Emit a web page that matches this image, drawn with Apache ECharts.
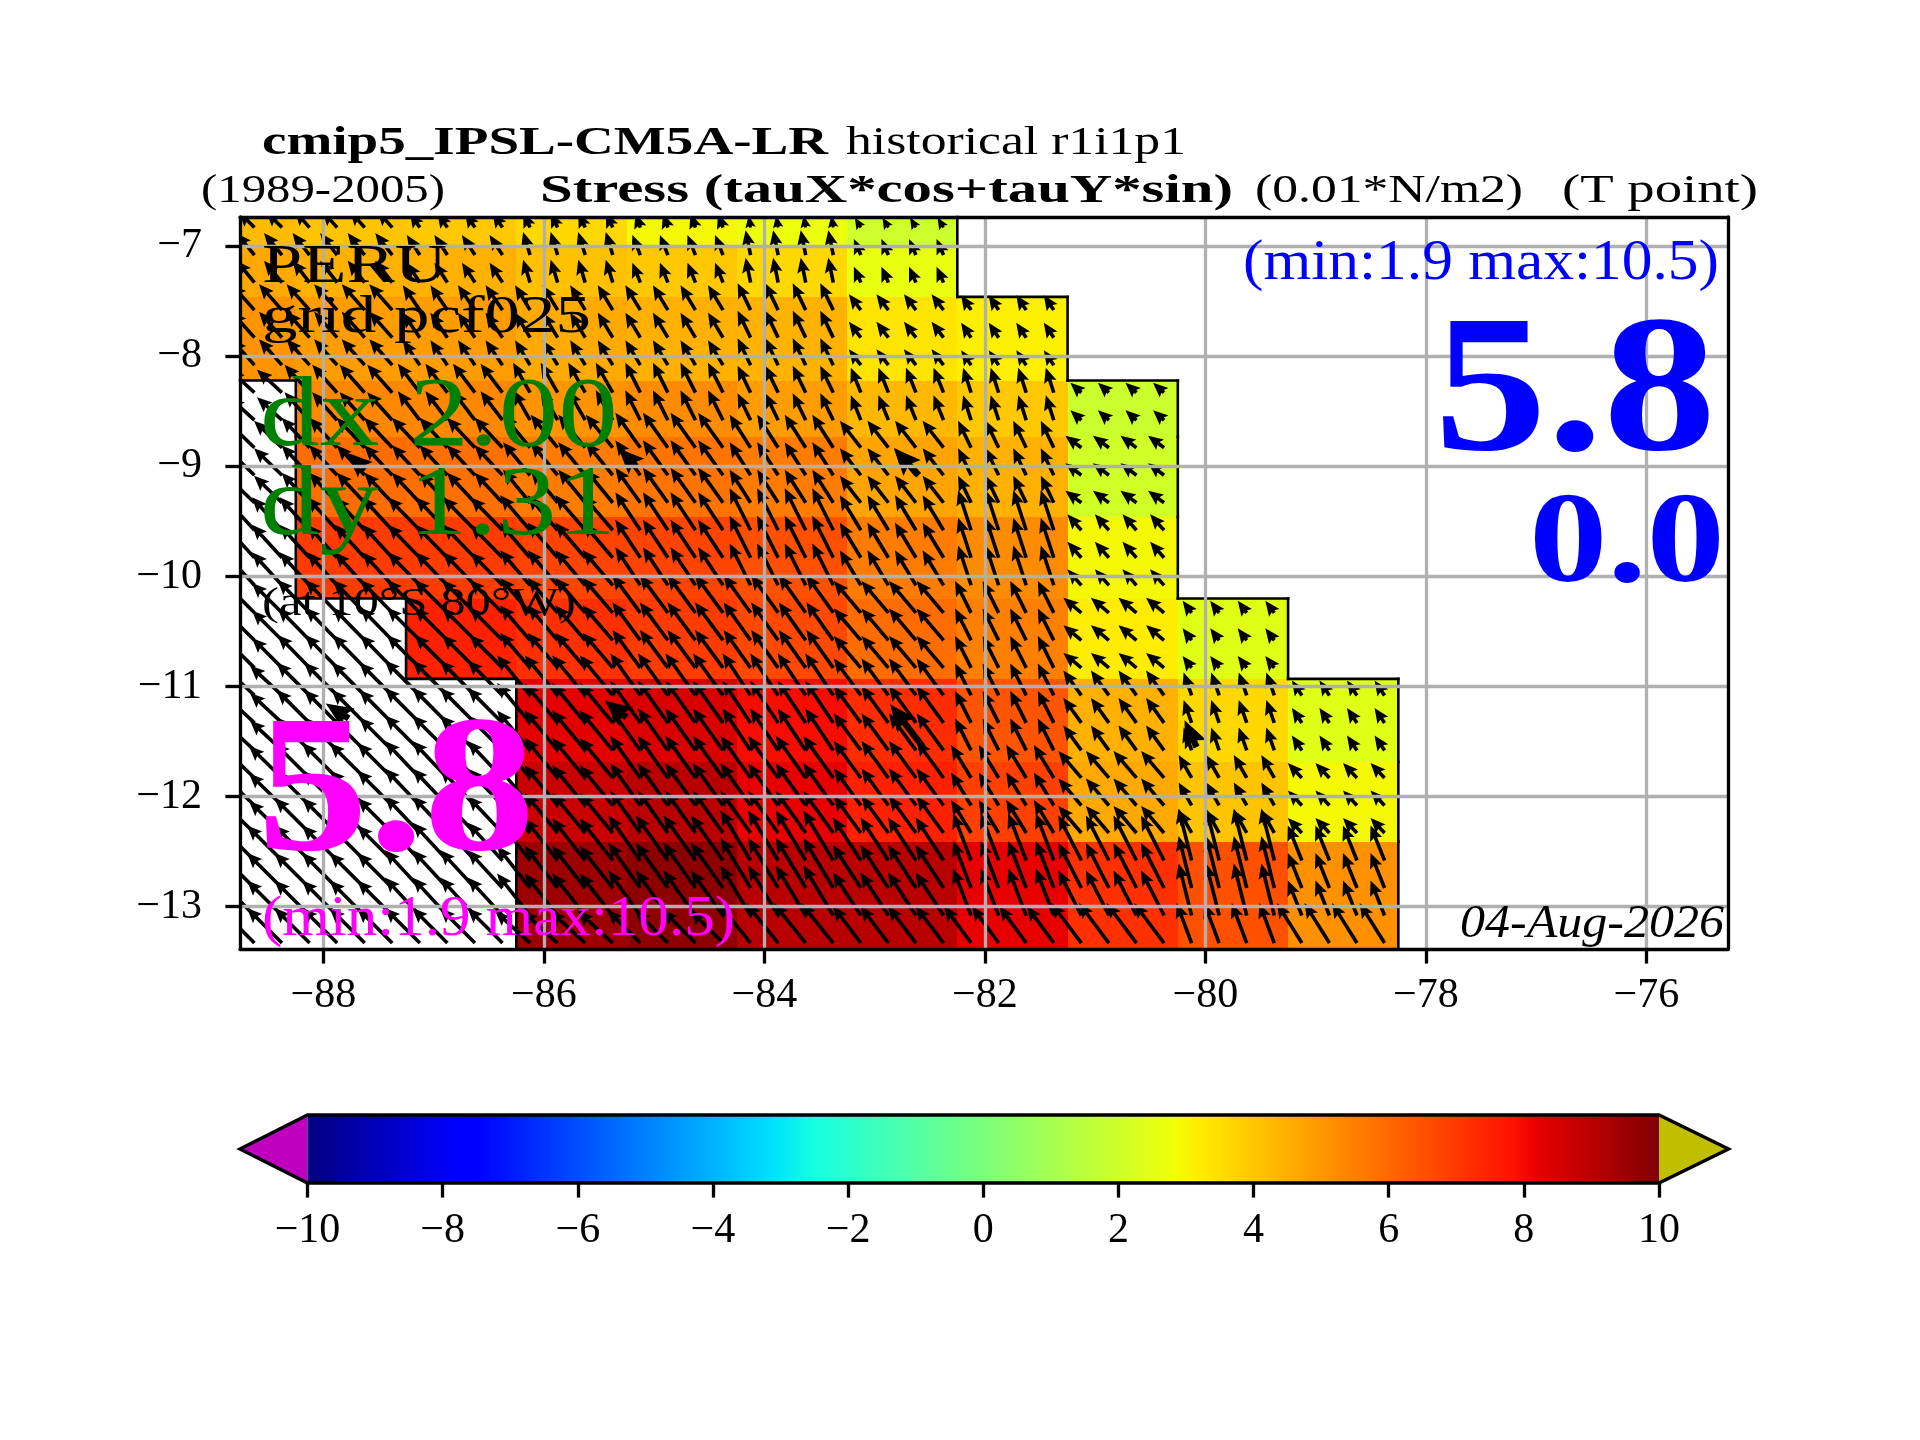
<!DOCTYPE html>
<html><head><meta charset="utf-8">
<style>html,body{margin:0;padding:0;background:#fff}#c{width:1920px;height:1440px}</style>
<script src="https://cdn.jsdelivr.net/npm/echarts@6/dist/echarts.min.js"></script>
</head><body><div id="c"></div>
<script>
// ---- data ----
const lonTicks = [-88,-86,-84,-82,-80,-78,-76];
const latTicks = [-7,-8,-9,-10,-11,-12,-13];
const barTicks = [-10,-8,-6,-4,-2,0,2,4,6,8,10];
const colLon = [-88.756,-88.25,-87.25,-86.25,-85.25,-84.25,-83.25,-82.25,-81.25,-80.25,-79.25,-78.25];
const rowLat = [-6.734,-7.006,-7.46,-8.22,-8.73,-9.46,-10.2,-10.93,-11.685,-12.41,-13.384];
const N = null;
const stress = [
 [4.24,4.05,3.96,3.63,2.93,2.74,1.96,N,N,N,N],
 [4.64,4.47,4.47,4.13,3.96,3.63,2.64,N,N,N,N],
 [5.07,4.90,4.90,4.60,4.47,4.40,3.37,3.12,N,N,N],
 [N,5.32,5.32,5.07,5.23,4.90,4.30,3.96,1.90,N,N],
 [N,5.91,5.83,5.57,5.74,5.57,4.73,4.47,2.06,N,N],
 [N,6.93,6.93,6.76,6.76,6.50,5.57,5.23,2.93,N,N],
 [N,N,7.52,7.18,6.93,6.67,5.91,5.49,3.20,2.44,N],
 [N,N,N,8.25,8.45,7.95,7.27,6.42,4.47,3.63,2.44],
 [N,N,N,8.74,9.00,8.20,7.52,6.84,4.64,4.05,2.93],
 [N,N,N,9.50,9.78,9.03,9.03,8.20,7.18,6.50,5.15]
];
const quiverLon = [-88.625,-88.375,-88.125,-87.875,-87.625,-87.375,-87.125,-86.875,-86.625,-86.375,-86.125,-85.875,-85.625,-85.375,-85.125,-84.875,-84.625,-84.375,-84.125,-83.875,-83.625,-83.375,-83.125,-82.875,-82.625,-82.375,-82.125,-81.875,-81.625,-81.375,-81.125,-80.875,-80.625,-80.375,-80.125,-79.875,-79.625,-79.375,-79.125,-78.875,-78.625,-78.375];
const quiverLat = [-6.83,-7.08,-7.33,-7.58,-7.83,-8.08,-8.33,-8.58,-8.83,-9.08,-9.33,-9.58,-9.83,-10.08,-10.33,-10.58,-10.83,-11.08,-11.33,-11.58,-11.83,-12.08,-12.33,-12.58,-12.83,-13.08,-13.33];
const quiverRow = [0,1,1,2,2,2,3,3,4,4,4,5,5,5,6,6,6,7,7,7,8,8,8,9,9,9,10];
const tauX = [
 [-1.6,-1.5,-1.0,-0.7,-0.5,-0.2,-0.6,N,N,N,N],
 [-1.8,-1.7,-1.3,-0.7,-0.8,-0.5,-0.7,N,N,N,N],
 [-2.3,-2.3,-1.7,-1.5,-1.5,-1.3,-1.2,-1.0,N,N,N],
 [-2.5,-2.5,-2.2,-1.7,-1.5,-1.3,-1.0,-0.8,-1.1,N,N],
 [-2.8,-2.8,-2.8,-2.7,-2.5,-2.1,-2.1,-1.3,-1.6,N,N],
 [-3.0,-3.0,-3.2,-3.0,-2.5,-2.1,-2.1,-1.3,-1.4,N,N],
 [-3.0,-3.2,-3.3,-3.0,-2.8,-2.7,-2.7,-1.6,-1.8,-0.9,N],
 [-3.2,-3.3,-3.5,-3.3,-3.0,-2.8,-2.7,-1.6,-1.8,-0.8,-1.0],
 [-3.3,-3.5,-3.5,-3.3,-3.0,-3.0,-2.7,-2.0,-2.3,-1.3,-1.4],
 [-3.5,-3.5,-3.5,-3.3,-3.2,-3.0,-2.8,-1.8,-2.3,-1.3,-1.4],
 [-3.5,-3.5,-3.5,-3.5,-3.3,-3.2,-2.8,-2.7,-3.0,-1.5,-2.5]
];
const tauY = [
 [1.6,1.7,1.5,1.5,1.4,1.2,1.0,N,N,N,N],
 [2.2,2.2,2.0,2.3,2.0,2.5,1.6,N,N,N,N],
 [2.6,2.6,2.5,2.5,2.5,2.7,1.6,1.5,N,N,N],
 [2.3,2.8,2.9,3.0,3.0,2.7,2.5,2.5,1.0,N,N],
 [2.7,3.0,3.0,3.3,3.5,3.3,2.7,2.7,1.2,N,N],
 [3.3,3.3,3.3,3.5,3.8,4.2,3.5,4.0,1.6,N,N],
 [3.0,3.3,3.3,3.5,3.8,3.8,3.2,3.2,1.5,1.2,N],
 [3.0,3.3,3.5,4.0,4.2,4.2,3.7,3.2,2.5,2.3,1.5],
 [3.2,3.5,3.7,4.0,4.2,4.2,3.7,3.3,2.7,2.3,1.5],
 [3.5,3.5,3.8,4.2,4.5,5.0,4.3,4.7,4.5,5.2,3.5],
 [3.5,3.5,3.5,3.2,3.3,4.0,3.7,3.7,4.0,4.0,4.0]
];
// bold arrows: lon, lat, tauX, tauY
const boldArrows = [
 [-87.62,-9.03,-1.8,1.7],[-85.16,-9.00,-1.8,1.8],[-82.60,-9.08,-2.5,2.7],
 [-87.77,-11.29,-2.3,1.5],[-85.25,-11.28,-2.2,1.7],[-82.56,-11.55,-3.3,4.3],[-80.08,-11.55,-1.2,2.7]
];
const jetPos = [0,0.11,0.125,0.34,0.35,0.375,0.64,0.65,0.66,0.89,0.91,1];
const jetR = [0,0,0,0,0,0.0806,0.9355,0.9677,1,1,0.9091,0.5];
const jetG = [0,0,0,0.8636,0.9091,1,1,0.963,0.9259,0.0741,0,0];
const jetB = [0.5,1,1,1,0.9677,0.8871,0.0323,0,0,0,0,0];

// ---- helpers ----
function hex(r,g,b){return 'rgb('+Math.round(r*255)+','+Math.round(g*255)+','+Math.round(b*255)+')';}
function jet(t){
  t=Math.max(0,Math.min(1,t));
  let i=0; while(i<jetPos.length-2&&t>jetPos[i+1])i++;
  const f=(t-jetPos[i])/(jetPos[i+1]-jetPos[i]);
  return hex(jetR[i]+f*(jetR[i+1]-jetR[i]),jetG[i]+f*(jetG[i+1]-jetG[i]),jetB[i]+f*(jetB[i+1]-jetB[i]));
}
const valColor=v=>jet((v+10)/20);

const cells=[], coast=[];
stress.forEach((row,r)=>row.forEach((v,c)=>{
  if(v===N)return;
  cells.push([colLon[c],colLon[c+1],rowLat[r],rowLat[r+1],v]);
  const up=r>0?stress[r-1][c]:v;
  const dn=r<stress.length-1?stress[r+1][c]:v;
  const lf=c>0?row[c-1]:v;
  const rt=c<row.length-1?row[c+1]:N;
  if(up===N)coast.push([colLon[c],rowLat[r],colLon[c+1],rowLat[r]]);
  if(dn===N)coast.push([colLon[c],rowLat[r+1],colLon[c+1],rowLat[r+1]]);
  if(lf===N)coast.push([colLon[c],rowLat[r],colLon[c],rowLat[r+1]]);
  if(rt===N)coast.push([colLon[c+1],rowLat[r],colLon[c+1],rowLat[r+1]]);
}));
const quiver=[];
quiverLat.forEach((la,j)=>quiverLon.forEach(lo=>{
  let c=0; while(c<colLon.length-2&&lo>colLon[c+1])c++;
  const r=quiverRow[j];
  if(tauX[r][c]===N)return;
  quiver.push([lo,la,tauX[r][c],tauY[r][c],1]);
}));
boldArrows.forEach(a=>quiver.push([a[0],a[1],a[2],a[3],2]));

const PX=110.25, UNIT=10/PX; // arrow length: ten pixels per unit, through the axis scale
function renderArrow(p,api){
  const lo=api.value(0),la=api.value(1),u=api.value(2),v=api.value(3),bold=api.value(4);
  const a=api.coord([lo,la]), b=api.coord([lo+u*UNIT,la+v*UNIT]);
  const dx=b[0]-a[0],dy=b[1]-a[1],L=Math.hypot(dx,dy);
  const ux=dx/L,uy=dy/L,nx=-uy,ny=ux;
  const k=bold>1?1.8:1;
  let w=3.6*k,hl=15*k,hal=13*k,hw=13*k,s=1;
  if(L<hl){s=L/hl;}
  w*=s;hl*=s;hal*=s;hw*=s;
  const P=(t,o)=>[a[0]+ux*t+nx*o,a[1]+uy*t+ny*o];
  return {type:'polygon',shape:{points:[P(0,w/2),P(L-hal,w/2),P(L-hl,hw/2),P(L,0),P(L-hl,-hw/2),P(L-hal,-w/2),P(0,-w/2)]},style:{fill:'#000'}};
}
function renderCell(p,api){
  const a=api.coord([api.value(0),api.value(2)]),b=api.coord([api.value(1),api.value(3)]);
  const x=Math.round(a[0]),y=Math.round(a[1]);
  return {type:'rect',shape:{x:x,y:y,width:Math.round(b[0])-x,height:Math.round(b[1])-y},style:{fill:valColor(api.value(4))}};
}
function renderCoast(p,api){
  const a=api.coord([api.value(0),api.value(1)]),b=api.coord([api.value(2),api.value(3)]);
  return {type:'line',shape:{x1:a[0],y1:a[1],x2:b[0],y2:b[1]},style:{stroke:'#000',lineWidth:2.6,lineCap:'square'}};
}
const barStops=jetPos.map((p,i)=>({offset:p,color:hex(jetR[i],jetG[i],jetB[i])}));
function renderBar(p,api){
  const l=api.coord([-10,0]),r=api.coord([10,1]);
  const tipL=api.coord([-11.0,0.5]),tipR=api.coord([11.03,0.5]);
  const x0=l[0],x1=r[0],yb=l[1],yt=r[1];
  return {type:'group',children:[
    {type:'polygon',shape:{points:[[x0,yt],[tipL[0],tipL[1]],[x0,yb]]},style:{fill:'#bf00bf'}},
    {type:'polygon',shape:{points:[[x1,yt],[tipR[0],tipR[1]],[x1,yb]]},style:{fill:'#bfbf00'}},
    {type:'rect',shape:{x:x0,y:yt,width:x1-x0,height:yb-yt},style:{fill:new echarts.graphic.LinearGradient(0,0,1,0,barStops)}},
    {type:'polygon',shape:{points:[[x0,yt],[x1,yt],[tipR[0],tipR[1]],[x1,yb],[x0,yb],[tipL[0],tipL[1]]]},style:{fill:'none',stroke:'#000',lineWidth:3.3,lineJoin:'miter'}}
  ]};
}

// ---- text ----
const FF='"Liberation Serif"';
const mctx=document.createElement('canvas').getContext('2d');
function label(text,x0,x1,base,size,color,weight,fstyle){
  weight=weight||'normal';fstyle=fstyle||'normal';
  mctx.font=fstyle+' '+weight+' '+size+'px '+FF;
  const sx=(x1-x0)/mctx.measureText(text).width;
  return {type:'text',x:x0,y:base-0.2775*size,scaleX:sx,z:100,silent:true,
    style:{text:text,fill:color||'#000',font:fstyle+' '+weight+' '+size+'px '+FF,textAlign:'left',textVerticalAlign:'middle',verticalAlign:'middle'}};
}
const texts=[
 label('cmip5_IPSL-CM5A-LR',262,828,155,41,'#000','bold'),
 label('historical r1i1p1',846,1186,155,41),
 label('(1989-2005)',201,445,203,41),
 label('Stress (tauX*cos+tauY*sin)',540,1233,203,41,'#000','bold'),
 label('(0.01*N/m2)',1255,1523,203,41),
 label('(T point)',1562,1758,203,41),
 label('PERU',262,447,283,54),
 label('grid pcf025',262,591,333,52),
 label('dx 2.00',260,618,446,100,'#008000'),
 label('dy 1.31',260,616,535,100,'#008000'),
 label('(at 10°S 80°W)',262,576,616,41),
 label('5.8',257,535,853,194,'#ff00ff','bold'),
 label('(min:1.9 max:10.5)',262,735,936,56,'#ff00ff'),
 label('(min:1.9 max:10.5)',1243,1719,280,56,'#0000ff'),
 label('5.8',1434,1716,453,194,'#0000ff','bold'),
 label('0.0',1529,1725,583,129,'#0000ff','bold'),
 label('04-Aug-2026',1460,1724,938,47,'#000','normal','italic')
];
const minus=v=>String(v).replace('-','\u2212');
const tickFont={fontFamily:FF,fontSize:42,color:'#000'};
const tick={show:true,length:14.6,lineStyle:{color:'#000',width:3.3}};
const grid={show:true,lineStyle:{color:'#b0b0b0',width:3.3}};
const frame={show:true,onZero:false,lineStyle:{color:'#000',width:3.3}};

const chart=echarts.init(document.getElementById('c'),null,{renderer:'canvas',width:1920,height:1440});
chart.setOption({
  animation:false,backgroundColor:'#fff',
  grid:[{left:240,top:217,width:1488,height:732},{left:307.5,top:1115,width:1351.5,height:68}],
  xAxis:[
    {type:'value',gridIndex:0,z:10,min:-88.756,max:-75.26,position:'bottom',axisLine:frame,
      axisTick:Object.assign({customValues:lonTicks},tick),splitLine:grid,
      axisLabel:Object.assign({customValues:lonTicks,margin:26,formatter:minus},tickFont)},
    {type:'value',gridIndex:0,z:10,min:-88.756,max:-75.26,position:'top',axisLine:frame,axisTick:{show:false},axisLabel:{show:false},splitLine:{show:false}},
    {type:'value',gridIndex:1,z:10,min:-10,max:10,interval:2,position:'bottom',axisLine:{show:false},
      axisTick:tick,splitLine:{show:false},axisLabel:Object.assign({margin:27,formatter:minus,customValues:barTicks},tickFont)}
  ],
  yAxis:[
    {type:'value',gridIndex:0,z:10,min:-13.384,max:-6.734,position:'left',axisLine:frame,
      axisTick:Object.assign({customValues:latTicks},tick),splitLine:grid,
      axisLabel:Object.assign({customValues:latTicks,margin:38,formatter:minus},tickFont)},
    {type:'value',gridIndex:0,z:10,min:-13.384,max:-6.734,position:'right',axisLine:frame,axisTick:{show:false},axisLabel:{show:false},splitLine:{show:false}},
    {type:'value',gridIndex:1,min:0,max:1,show:false}
  ],
  graphic:{elements:texts},
  series:[
    {type:'custom',name:'stress',xAxisIndex:0,yAxisIndex:0,z:1,clip:true,silent:true,data:cells,renderItem:renderCell,encode:{x:[0,1],y:[2,3]}},
    {type:'custom',name:'coast',xAxisIndex:0,yAxisIndex:0,z:2,silent:true,data:coast,renderItem:renderCoast,encode:{x:[0,2],y:[1,3]}},
    {type:'custom',name:'quiver',xAxisIndex:0,yAxisIndex:0,z:3,clip:true,silent:true,data:quiver,renderItem:renderArrow,encode:{x:0,y:1}},
    {type:'custom',name:'colorbar',xAxisIndex:2,yAxisIndex:2,z:3,clip:false,silent:true,data:[[-10,10]],renderItem:renderBar,encode:{x:[0,1]}}
  ]
});
</script></body></html>
